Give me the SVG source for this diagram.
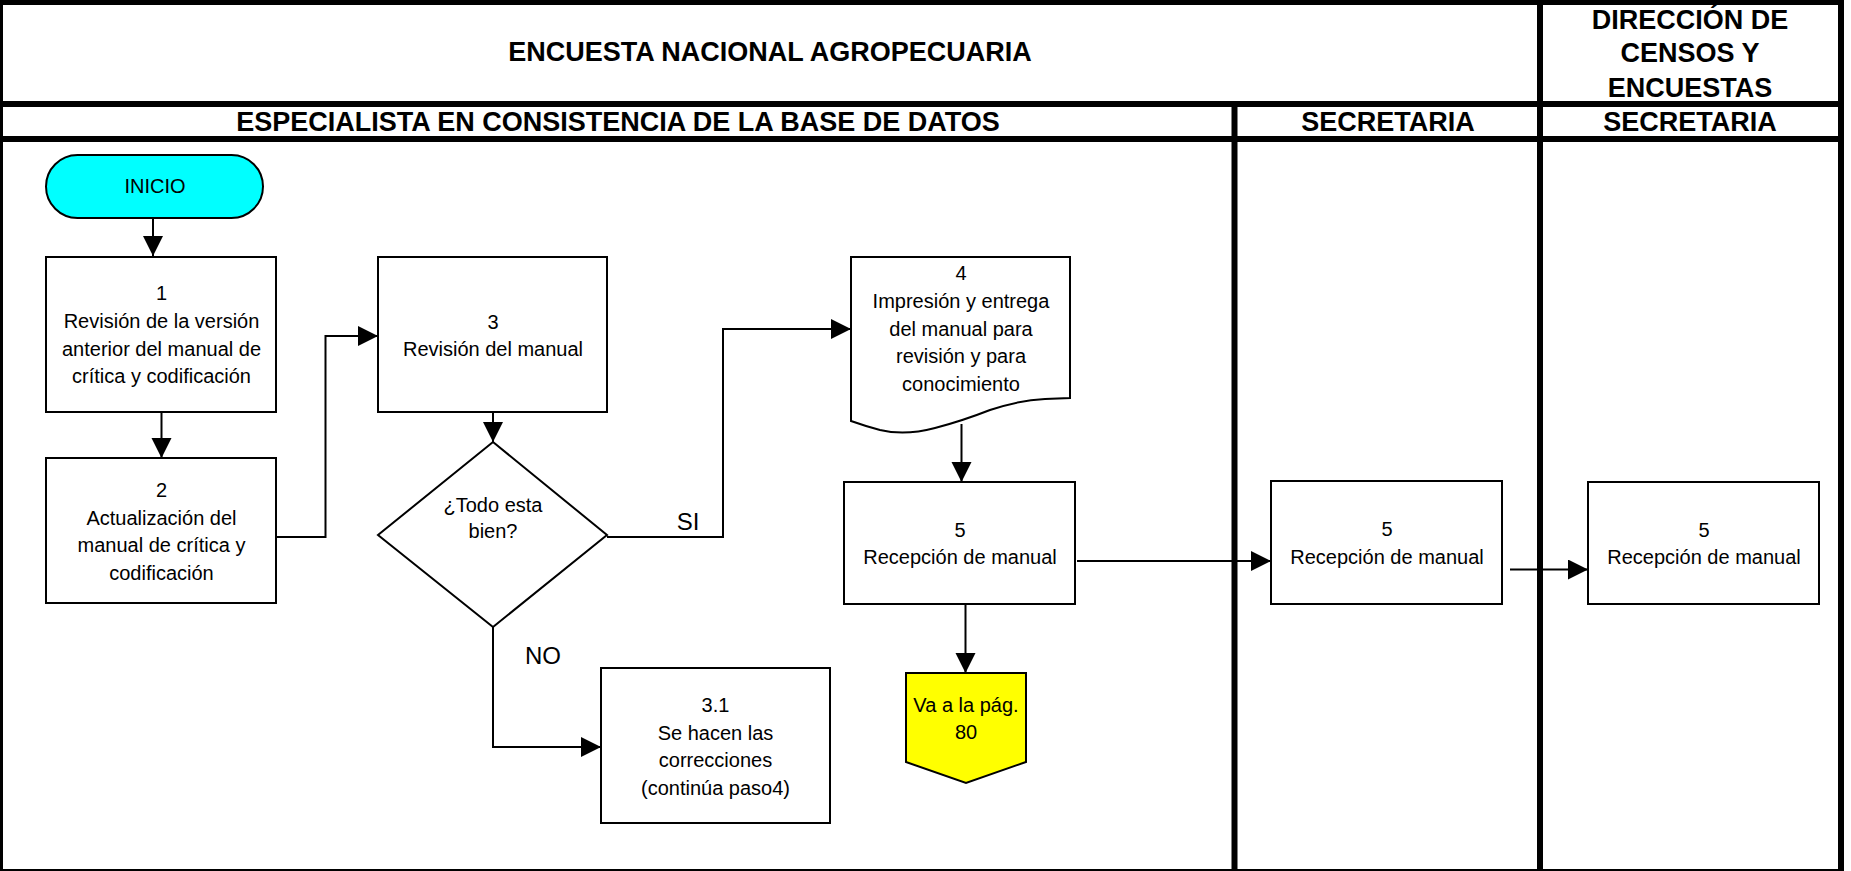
<svg xmlns="http://www.w3.org/2000/svg" width="1851" height="871" viewBox="0 0 1851 871">
  <style>
    .frame { stroke: #000; stroke-width: 6; fill: none; }
    .hdr { font-family: "Liberation Sans", Arial, sans-serif; font-weight: bold; font-size: 27px; fill: #000; text-anchor: middle; }
    .box { fill: #fff; stroke: #000; stroke-width: 2; }
    .lbl { font-family: "Liberation Sans", Arial, sans-serif; font-size: 20px; fill: #000; text-anchor: middle; }
    .tag { font-family: "Liberation Sans", Arial, sans-serif; font-size: 24px; fill: #000; text-anchor: middle; }
    .conn { fill: none; stroke: #000; stroke-width: 2; }
  </style>
  <defs>
    <marker id="arrow" markerUnits="userSpaceOnUse" markerWidth="21" markerHeight="21" refX="20" refY="10" orient="auto">
      <path d="M0,0 L20,10 L0,20 Z" fill="#000"/>
    </marker>
  </defs>

  <rect width="1851" height="871" fill="#fff"/>

  <!-- swimlane frame -->
  <g id="frame">
    <line class="frame" x1="0" y1="0" x2="0" y2="871"/>
    <line class="frame" x1="0" y1="2" x2="1844" y2="2"/>
    <line class="frame" x1="1841" y1="0" x2="1841" y2="871"/>
    <line x1="0" y1="870" x2="1844" y2="870" stroke="#000" stroke-width="2"/>
    <line class="frame" x1="0" y1="104" x2="1844" y2="104"/>
    <line class="frame" x1="0" y1="139" x2="1844" y2="139"/>
    <line class="frame" x1="1234.5" y1="104" x2="1234.5" y2="871"/>
    <line class="frame" x1="1540" y1="0" x2="1540" y2="871"/>
  </g>

  <g id="headers">
    <text class="hdr" x="770" y="61">ENCUESTA NACIONAL AGROPECUARIA</text>
    <text class="hdr" x="1690" y="28.5">DIRECCIÓN DE</text>
    <text class="hdr" x="1690" y="62">CENSOS Y</text>
    <text class="hdr" x="1690" y="96.5">ENCUESTAS</text>
    <text class="hdr" x="618" y="131">ESPECIALISTA EN CONSISTENCIA DE LA BASE DE DATOS</text>
    <text class="hdr" x="1388" y="131">SECRETARIA</text>
    <text class="hdr" x="1690" y="131">SECRETARIA</text>
  </g>

  <!-- connectors -->
  <g id="connectors">
    <path class="conn" d="M153,218 V256" marker-end="url(#arrow)"/>
    <path class="conn" d="M161.5,412 V458" marker-end="url(#arrow)"/>
    <path class="conn" d="M276,537 H325.5 V336 H378" marker-end="url(#arrow)"/>
    <path class="conn" d="M493,412 V442" marker-end="url(#arrow)"/>
    <path class="conn" d="M607,537 H723 V329 H851" marker-end="url(#arrow)"/>
    <path class="conn" d="M493,627 V747 H601" marker-end="url(#arrow)"/>
    <path class="conn" d="M961.5,424 V482" marker-end="url(#arrow)"/>
    <path class="conn" d="M965.5,604 V673" marker-end="url(#arrow)"/>
    <path class="conn" d="M1077,561 H1271" marker-end="url(#arrow)"/>
    <path class="conn" d="M1510,569.5 H1588" marker-end="url(#arrow)"/>
    <text class="tag" x="688" y="530">SI</text>
    <text class="tag" x="543" y="664">NO</text>
  </g>

  <g id="inicio">
    <rect x="46" y="155" width="217" height="63" rx="31.5" ry="31.5" fill="#00ffff" stroke="#000" stroke-width="2"/>
    <text class="lbl" x="155" y="193">INICIO</text>
  </g>

  <g id="paso1">
    <rect class="box" x="46" y="257" width="230" height="155"/>
    <text class="lbl" x="161.5" y="300">1</text>
    <text class="lbl" x="161.5" y="328">Revisión de la versión</text>
    <text class="lbl" x="161.5" y="355.5">anterior del manual de</text>
    <text class="lbl" x="161.5" y="383">crítica y codificación</text>
  </g>

  <g id="paso2">
    <rect class="box" x="46" y="458" width="230" height="145"/>
    <text class="lbl" x="161.5" y="497">2</text>
    <text class="lbl" x="161.5" y="525">Actualización del</text>
    <text class="lbl" x="161.5" y="552">manual de crítica y</text>
    <text class="lbl" x="161.5" y="580">codificación</text>
  </g>

  <g id="paso3">
    <rect class="box" x="378" y="257" width="229" height="155"/>
    <text class="lbl" x="493" y="329">3</text>
    <text class="lbl" x="493" y="355.5">Revisión del manual</text>
  </g>

  <g id="decision">
    <path class="box" d="M493,442 L607,535 L493,627 L378,535 Z"/>
    <text class="lbl" x="493" y="511.5">¿Todo esta</text>
    <text class="lbl" x="493" y="538">bien?</text>
  </g>

  <g id="paso3-1">
    <rect class="box" x="601" y="668" width="229" height="155"/>
    <text class="lbl" x="715.5" y="711.5">3.1</text>
    <text class="lbl" x="715.5" y="739.5">Se hacen las</text>
    <text class="lbl" x="715.5" y="767">correcciones</text>
    <text class="lbl" x="715.5" y="795">(continúa paso4)</text>
  </g>

  <g id="paso4">
    <path class="box" d="M851,257 H1070 V398 L1045,399 Q1020,400 990,410 Q962,421 935,428 Q905,436 880,430 Q865,426 851,421 Z"/>
    <text class="lbl" x="961" y="280">4</text>
    <text class="lbl" x="961" y="308">Impresión y entrega</text>
    <text class="lbl" x="961" y="335.5">del manual para</text>
    <text class="lbl" x="961" y="363">revisión y para</text>
    <text class="lbl" x="961" y="391">conocimiento</text>
  </g>

  <g id="paso5-especialista">
    <rect class="box" x="844" y="482" width="231" height="122"/>
    <text class="lbl" x="960" y="536.5">5</text>
    <text class="lbl" x="960" y="563.5">Recepción de manual</text>
  </g>

  <g id="conector-pagina">
    <path d="M906,673 H1026 V762 L966,783 L906,762 Z" fill="#ffff00" stroke="#000" stroke-width="2"/>
    <text class="lbl" x="966" y="712">Va a la pág.</text>
    <text class="lbl" x="966" y="739">80</text>
  </g>

  <g id="paso5-secretaria">
    <rect class="box" x="1271" y="481" width="231" height="123"/>
    <text class="lbl" x="1387" y="536">5</text>
    <text class="lbl" x="1387" y="563.5">Recepción de manual</text>
  </g>

  <g id="paso5-direccion">
    <rect class="box" x="1588" y="482" width="231" height="122"/>
    <text class="lbl" x="1704" y="536.5">5</text>
    <text class="lbl" x="1704" y="563.5">Recepción de manual</text>
  </g>
</svg>
